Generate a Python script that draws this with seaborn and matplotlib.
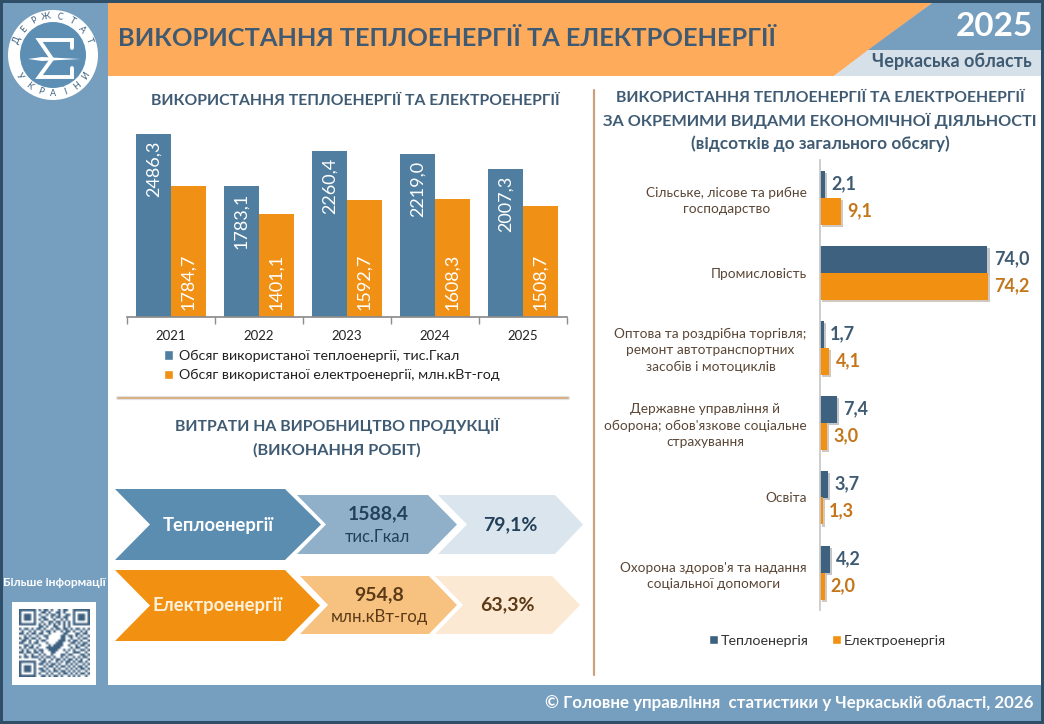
#!/bin/env python
# heat and electricity use infographic, Cherkasy region 2025

import numpy as np
import pandas as pd
import matplotlib.pyplot as plt
import matplotlib.patheffects as pe
from matplotlib.patches import Polygon, Rectangle, Circle
import seaborn as sns

years = ["2021", "2022", "2023", "2024", "2025"]
heat_use = [2486.3, 1783.1, 2260.4, 2219.0, 2007.3]
power_use = [1784.7, 1401.1, 1592.7, 1608.3, 1508.7]
use_names = ["Обсяг використаної теплоенергії, тис.Гкал",
             "Обсяг використаної електроенергії, млн.кВт-год"]

activities = ["Сільське, лісове та рибне\nгосподарство",
              "Промисловість",
              "Оптова та роздрібна торгівля;\nремонт автотранспортних\nзасобів і мотоциклів",
              "Державне управління й\nоборона; обов'язкове соціальне\nстрахування",
              "Освіта",
              "Охорона здоров'я та надання\nсоціальної допомоги"]
heat_share = [2.1, 74.0, 1.7, 7.4, 3.7, 4.2]
power_share = [9.1, 74.2, 4.1, 3.0, 1.3, 2.0]
share_names = ["Теплоенергія", "Електроенергія"]

BLUE = "#4F7EA0"
ORANGE = "#F09015"
NAVY = "#3F6180"
BAND = "#769FBF"
DARK = "#3F5B73"
W, H = 1044, 724

sns.set_theme(style="white")
plt.rcParams["font.family"] = ["Lato", "DejaVu Sans"]


def comma(v):
    return f"{v:.1f}".replace(".", ",")


def px_axes(left, top, right, bottom):
    return fig.add_axes([left / W, 1 - bottom / H, (right - left) / W, (bottom - top) / H])


def txt(x, y, s, size, color=DARK, weight="normal", ha="center", **kw):
    return bg.text(x, y, s, fontsize=size, color=color, fontweight=weight, ha=ha,
                   va="center", **kw)


def poly(points, color, **kw):
    bg.add_patch(Polygon(points, closed=True, facecolor=color, edgecolor="none", **kw))


def chevron(x0, notch, x1, tip, top, bottom, color):
    mid = (top + bottom) / 2
    poly([(x0, top), (x1, top), (tip, mid), (x1, bottom), (x0, bottom), (notch, mid)], color)


fig = plt.figure(figsize=(W / 100, H / 100), dpi=100, facecolor="white")
bg = fig.add_axes([0, 0, 1, 1])
bg.axis("off")

# frame, side band and header
bg.add_patch(Rectangle((0, 0), W, H, facecolor="#2F4F68", edgecolor="none"))
bg.add_patch(Rectangle((3, 3), W - 6, H - 6, facecolor="white", edgecolor="none"))
bg.add_patch(Rectangle((3, 3), 105, H - 6, facecolor=BAND, edgecolor="none"))
bg.add_patch(Rectangle((3, 685), W - 6, 36, facecolor=BAND, edgecolor="none"))
poly([(108, 3), (932, 3), (834, 76), (108, 76)], "#FFAB5C")
poly([(932, 3), (1041, 3), (1041, 50), (868, 50)], BAND)
poly([(868, 50), (1041, 50), (1041, 76), (834, 76)], "#D6E0E8")

txt(118, 38, "ВИКОРИСТАННЯ ТЕПЛОЕНЕРГІЇ ТА ЕЛЕКТРОЕНЕРГІЇ", 18.3, weight="bold", ha="left")
txt(1033, 26, "2025", 24, color="white", weight="bold", ha="right")
txt(1032, 61, "Черкаська область", 13, weight="bold", ha="right")
txt(1033, 703, "© Головне управління  статистики у Черкаській області, 2026", 12.2,
    color="white", weight="bold", ha="right")

# logo
bg.add_patch(Circle((53, 55), 45, facecolor="white", edgecolor="none"))
bg.add_patch(Circle((53, 55), 33, facecolor="#5D8FB5", edgecolor="none"))
for ch, ang in zip("ДЕРЖСТАТ", np.linspace(-158, -22, 8)):
    a = np.radians(ang)
    txt(53 + 39 * np.cos(a), 55 + 39 * np.sin(a), ch, 6.5, color=NAVY, rotation=-ang - 90)
for ch, ang in zip("УКРАЇНИ", np.linspace(148, 32, 7)):
    a = np.radians(ang)
    txt(53 + 39 * np.cos(a), 55 + 39 * np.sin(a), ch, 6.5, color=NAVY, rotation=90 - ang)
bg.plot([72, 72, 39, 52, 39, 72, 72], [48, 40, 40, 59, 77, 77, 68], color="white", lw=2.8,
        solid_joinstyle="miter")
poly([(28, 59), (42, 57), (80, 59), (42, 61)], "white")

# qr code, hand typed
qr_rows = [
    "11111110101101001011001111111",
    "10000010011010011010001000001",
    "10111010100101101001101011101",
    "10111010011001011011001011101",
    "10111010101100100101001011101",
    "10000010010011011010101000001",
    "11111110101010101010101111111",
    "00000000110100110010100000000",
    "10110101101001011011010110101",
    "01001010010110100101101001010",
    "11010110110010000011000110110",
    "00101001001100000110110101001",
    "10110110100100000110010010110",
    "01101001011000001110101101001",
    "11001011000100011100011010110",
    "00110100100010111100100101101",
    "10101101000111111000010110010",
    "01010010110011110010101001101",
    "11011011010001100001001110010",
    "00100100101001000110110001101",
    "10110111010110100101001010110",
    "00000000101001011010110101001",
    "11111110011010010101101011010",
    "10000010110101101001010100101",
    "10111010001011010110101011010",
    "10111010110100101001010101101",
    "10111010011010110110101010010",
    "10000010100101001011010101101",
    "11111110011010110100101010010",
]
qr = np.array([[int(c) for c in row] for row in qr_rows])
bg.add_patch(Rectangle((12, 602), 84, 83, facecolor="white", edgecolor="none"))
bg.imshow(qr, extent=(19, 90, 677, 609), cmap=sns.blend_palette(["white", NAVY], as_cmap=True),
          interpolation="bilinear", aspect="auto", zorder=2)
txt(54, 582, "Більше інформації", 8.6, color="white", weight="bold")

# separators
bg.plot([594, 594], [90, 675], color="#C9A27E", lw=1.6)
bg.plot([118, 568], [398, 398], color="#E2E2E2", lw=3)
bg.plot([118, 568], [398, 398], color="#D7A878", lw=1.2)

# chevrons
chevron(115, 150, 285, 321, 489, 560, "#5B8DB0")
chevron(297, 326, 428, 457, 495, 554, "#8FB0C8")
chevron(438, 467, 555, 583, 495, 554, "#DAE5ED")
chevron(115, 150, 285, 320, 570, 641, "#F29111")
chevron(300, 328, 429, 457, 576, 634, "#F7C27F")
chevron(435, 463, 552, 580, 576, 634, "#FBE9D3")

txt(218, 525, "Теплоенергії", 13.2, color="white", weight="bold")
txt(378, 514, "1588,4", 14, color="#23405A", weight="bold")
txt(377, 537, "тис.Гкал", 12, color="#23405A")
txt(510, 525, "79,1%", 14, color="#23405A", weight="bold")
txt(218, 605, "Електроенергії", 13.2, color="#FDF1DC", weight="bold")
txt(379, 595, "954,8", 14, color="#5C3A17", weight="bold")
txt(379, 617, "млн.кВт-год", 12.2, color="#5C3A17")
txt(507, 605, "63,3%", 14, color="#5C3A17", weight="bold")

# section titles
txt(355, 101, "ВИКОРИСТАННЯ ТЕПЛОЕНЕРГІЇ ТА ЕЛЕКТРОЕНЕРГІЇ", 11.3, weight="bold")
txt(337, 426, "ВИТРАТИ НА ВИРОБНИЦТВО ПРОДУКЦІЇ", 11.4, weight="bold")
txt(337, 450, "(ВИКОНАННЯ РОБІТ)", 11.7, weight="bold")
txt(820, 98, "ВИКОРИСТАННЯ ТЕПЛОЕНЕРГІЇ ТА ЕЛЕКТРОЕНЕРГІЇ", 11.3, weight="bold")
txt(820, 121, "ЗА ОКРЕМИМИ ВИДАМИ ЕКОНОМІЧНОЇ ДІЯЛЬНОСТІ", 11.7, weight="bold")
txt(820, 144, "(відсотків до загального обсягу)", 12.4, weight="bold")

bg.set_xlim(0, W)
bg.set_ylim(H, 0)

# yearly columns
use_df = pd.DataFrame({"year": years * 2, "value": heat_use + power_use,
                       "series": [use_names[0]] * 5 + [use_names[1]] * 5})
ax1 = px_axes(127, 124, 567, 317)
ax1.patch.set_alpha(0)
sns.barplot(data=use_df, x="year", y="value", hue="series", palette=[BLUE, ORANGE],
            width=0.8, gap=0, saturation=1, linewidth=0, ax=ax1, legend=False)
ax1.set_xlim(-0.5, 4.5)
ax1.set_ylim(0, 2622)
ax1.set_xlabel("")
ax1.set_ylabel("")
ax1.set_yticks([])
sns.despine(ax=ax1, left=True)
ax1.spines["bottom"].set_color("#8C8C8C")
ax1.set_xticks(np.arange(-0.5, 5), minor=True)
ax1.tick_params(axis="x", which="minor", bottom=True, length=5, width=1, color="#8C8C8C")
ax1.tick_params(axis="x", which="major", bottom=False, pad=3, labelsize=9.5, labelcolor="#222222")

for bar, v in zip(ax1.containers[0], heat_use):
    ax1.annotate(comma(v), (bar.get_x() + bar.get_width() / 2, v), xytext=(0, -5),
                 textcoords="offset points", rotation=90, ha="center", va="top",
                 color="white", fontsize=13)
for bar, v in zip(ax1.containers[1], power_use):
    ax1.annotate(comma(v), (bar.get_x() + bar.get_width() / 2, 0), xytext=(0, 5),
                 textcoords="offset points", rotation=90, ha="center", va="bottom",
                 color="white", fontsize=13)

handles = [Rectangle((0, 0), 1, 1, facecolor=c) for c in (BLUE, ORANGE)]
ax1.legend(handles, use_names, loc="upper left", bbox_to_anchor=(164 / W, 1 - 350 / H),
           bbox_transform=fig.transFigure, frameon=False, fontsize=10.3, handlelength=0.65,
           handleheight=0.65, handletextpad=0.4, labelspacing=0.5, borderpad=0,
           borderaxespad=0, labelcolor="#222222")

# shares by activity
share_df = pd.DataFrame({"activity": activities * 2, "share": heat_share + power_share,
                         "series": [share_names[0]] * 6 + [share_names[1]] * 6})
ax2 = px_axes(820, 160, 1035, 610)
ax2.patch.set_alpha(0)
sns.barplot(data=share_df, x="share", y="activity", hue="series", palette=[NAVY, "#F29111"],
            orient="y", width=0.72, gap=0, saturation=1, linewidth=0, ax=ax2, legend=False)
ax2.set_xlim(0, 95)
ax2.set_xlabel("")
ax2.set_ylabel("")
ax2.set_xticks([])
sns.despine(ax=ax2, bottom=True)
ax2.spines["left"].set_color("#C8C8C8")
ax2.tick_params(axis="y", left=False, pad=3.6, labelsize=9.8, labelcolor="#5A4636")
for lab in ax2.get_yticklabels():
    lab.set_multialignment("center")
    lab.set_linespacing(1.4)

shadow = [pe.SimplePatchShadow(offset=(1.5, -1.5), alpha=0.25), pe.Normal()]
for cont, vals, col in zip(ax2.containers, [heat_share, power_share], [DARK, "#C4761B"]):
    for bar in cont:
        bar.set_path_effects(shadow)
    ax2.bar_label(cont, labels=[comma(v) for v in vals], padding=4.5, color=col,
                  fontsize=13, fontweight="bold")

handles = [Rectangle((0, 0), 1, 1, facecolor=c) for c in (NAVY, "#F29111")]
ax2.legend(handles, share_names, loc="center left", bbox_to_anchor=(709 / W, 1 - 641 / H),
           bbox_transform=fig.transFigure, frameon=False, ncol=2, fontsize=10.3, handlelength=0.6,
           handleheight=0.6, handletextpad=0.25, columnspacing=1.6, borderpad=0,
           borderaxespad=0, labelcolor="#333333")

fig.savefig("out.png", dpi=100)
